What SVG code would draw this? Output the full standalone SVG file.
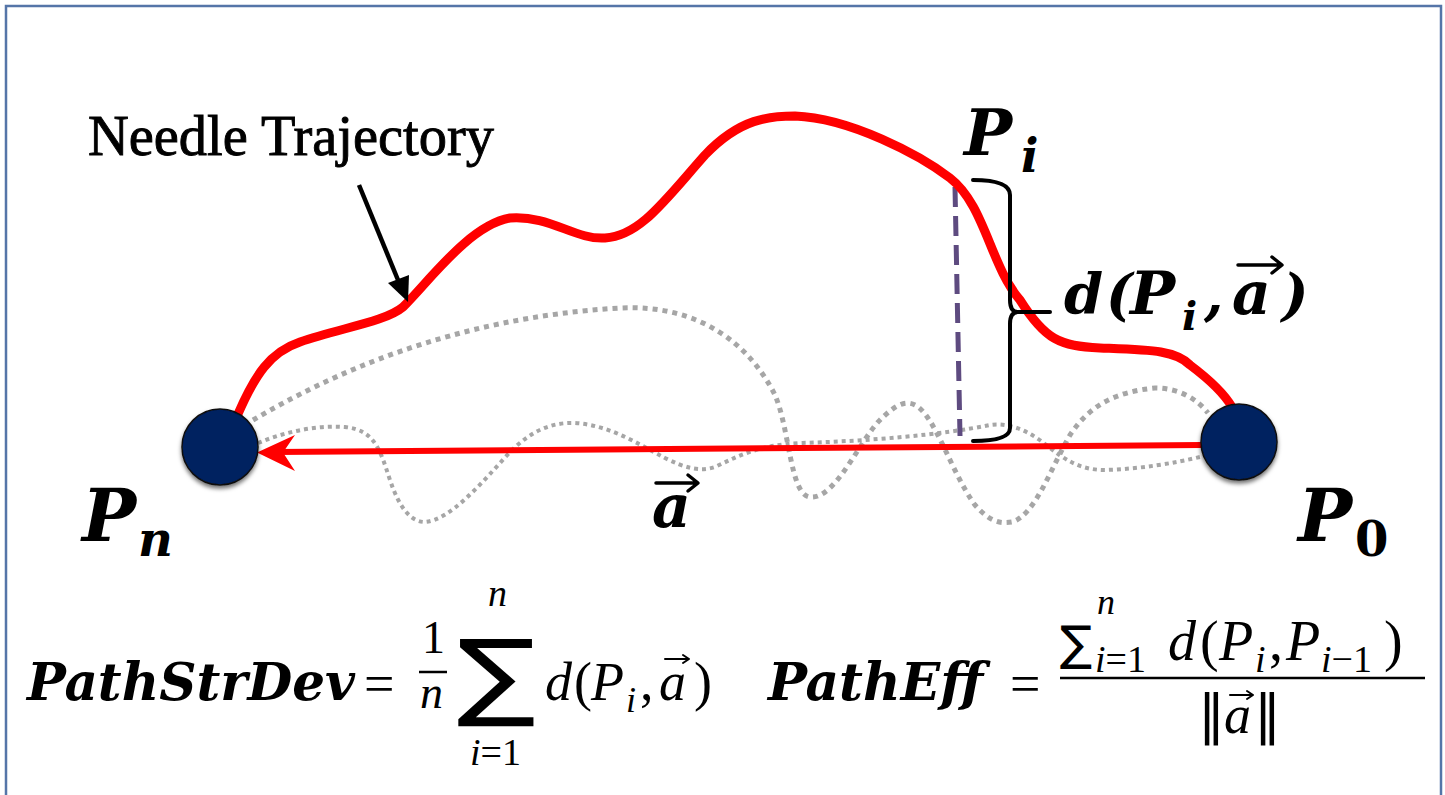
<svg xmlns="http://www.w3.org/2000/svg" width="1445" height="795" viewBox="0 0 1445 795">
<style>
.bi{font-family:"DejaVu Serif",serif;font-weight:bold;font-style:italic;fill:#000}
.bd{font-family:"DejaVu Serif",serif;font-weight:bold;fill:#000}
.it{font-family:"Liberation Serif",serif;font-style:italic;fill:#000}
.rm{font-family:"Liberation Serif",serif;fill:#000}
.sig{font-family:"DejaVu Sans",sans-serif;fill:#000}
.lbl{font-family:"Liberation Serif",serif;fill:#000;stroke:#000;stroke-width:0.9}
.dotA{fill:none;stroke:#a6a6a6;stroke-width:5;stroke-dasharray:5 5}
.dotB{fill:none;stroke:#a6a6a6;stroke-width:4;stroke-dasharray:4 4}
.red{fill:none;stroke:#ff0000;stroke-linecap:round}
.node{fill:#002060;stroke:#111;stroke-width:1.5}
.vec{fill:none;stroke:#000;stroke-linecap:round;stroke-linejoin:round}
</style>
<defs>
<filter id="sh" x="-30%" y="-30%" width="160%" height="170%">
<feDropShadow dx="0" dy="3" stdDeviation="2" flood-color="#000" flood-opacity="0.55"/>
</filter>
</defs>
<rect x="0" y="0" width="1445" height="795" fill="#fff"/>
<rect x="6" y="6" width="1435" height="800" fill="none" stroke="#5575a8" stroke-width="2.5"/>

<g id="connectors">
<path class="dotA" d="M253,420 C330,375 450,318 620,308 C700,304 750,345 775,395 C790,430 790,495 810,497 C835,500 860,440 880,420 C895,405 905,400 915,405 C935,415 950,470 975,505 C990,522 1000,524 1012,522 C1035,515 1050,470 1070,435 C1090,405 1115,392 1155,388 C1180,388 1198,400 1208,413"/>
<path class="dotB" d="M258,443 C285,432 315,425 345,427 C375,430 380,450 390,480 C400,510 412,522 425,522 C450,520 480,485 510,452 C530,432 550,422 575,423 C610,425 640,445 665,458 C685,468 700,472 715,467 C740,455 760,445 800,443 C870,441 940,435 990,425 C1010,422 1030,432 1045,444 C1065,460 1080,470 1105,470 C1140,469 1175,463 1200,457"/>
<line x1="955" y1="187" x2="960" y2="436" stroke="#5e4b80" stroke-width="5" stroke-dasharray="20 9"/>
<line class="red" x1="1202" y1="445" x2="275" y2="452" stroke-width="6"/>
<path d="M257,452.5 L295,435 L283,452.5 L295,471 Z" fill="#ff0000"/>
<path class="red" stroke-width="9" d="M238,414 C255,375 270,352 300,342 C340,328 385,322 403,307 C430,280 470,225 510,218 C550,215 575,240 605,238 C640,236 665,200 705,155 C740,118 770,116 795,116 C850,118 920,155 950,178 C985,205 990,265 1020,300 C1045,340 1060,346 1100,348 C1150,350 1175,350 1190,365 C1210,380 1225,395 1232,407"/>
<line x1="359" y1="185" x2="398" y2="280" stroke="#000" stroke-width="4.5"/>
<path d="M408,302 L388,283 L409,275 Z" fill="#000"/>
<path class="vec" stroke-width="4" d="M973,180 Q1010,180 1010,195 L1010,300 Q1010,312 1018,312 L1050,312 M1018,312 Q1010,312 1010,324 L1010,428 Q1010,441 973,441"/>
</g>

<g id="node-pn">
<circle class="node" cx="220" cy="447" r="38" filter="url(#sh)"/>
<text class="bi" x="82" y="541" font-size="72">P</text>
<text class="bi" x="138" y="556" font-size="48">n</text>
</g>
<g id="node-p0">
<circle class="node" cx="1239" cy="442" r="38" filter="url(#sh)"/>
<text class="bi" x="1298" y="541" font-size="72">P</text>
<text class="bd" x="1355" y="556" font-size="48">0</text>
</g>
<g id="label-pi">
<text class="bi" x="964" y="155" font-size="64">P</text>
<text class="bi" x="1021" y="172" font-size="46">i</text>
</g>
<g id="label-needle">
<text class="lbl" x="88" y="155" font-size="56" textLength="406" lengthAdjust="spacingAndGlyphs">Needle Trajectory</text>
</g>
<g id="label-d">
<text class="bi" x="1064" y="314" font-size="56">d</text>
<text class="bi" x="1106" y="314" font-size="56">(</text>
<text class="bi" x="1130" y="314" font-size="60">P</text>
<text class="bi" x="1182" y="330" font-size="40">i</text>
<text class="bi" x="1204" y="314" font-size="56">,</text>
<text class="bi" x="1232" y="314" font-size="60">a</text>
<text class="bi" x="1282" y="314" font-size="56">)</text>
<path class="vec" stroke-width="3.5" d="M1238,265 H1281 M1272,257 L1282,265 L1272,273"/>
</g>
<g id="label-a">
<text class="bi" x="652" y="527" font-size="60">a</text>
<path class="vec" stroke-width="3.5" d="M656,483 H697 M688,475 L698,483 L688,491"/>
</g>

<g id="formula-1">
<text class="bi" x="27" y="700" font-size="52" textLength="328" lengthAdjust="spacingAndGlyphs">PathStrDev</text>
<text class="rm" x="364" y="702" font-size="54">=</text>
<text class="rm" x="422" y="653" font-size="46">1</text>
<line x1="419" y1="672" x2="447" y2="672" stroke="#000" stroke-width="2.5"/>
<text class="it" x="420" y="708" font-size="46">n</text>
<text class="sig" x="0" y="0" font-size="96" transform="translate(457,708) scale(1.22,1)">∑</text>
<text class="it" x="488" y="606" font-size="38">n</text>
<text x="470" y="765" font-size="38"><tspan class="it">i</tspan><tspan class="rm">=1</tspan></text>
<text class="it" x="545" y="700" font-size="54">d</text>
<text class="rm" x="574" y="700" font-size="54">(</text>
<text class="it" x="591" y="700" font-size="54">P</text>
<text class="it" x="626" y="712" font-size="36">i</text>
<text class="rm" x="640" y="700" font-size="54">,</text>
<text class="it" x="659" y="700" font-size="54">a</text>
<text class="rm" x="694" y="700" font-size="54">)</text>
<path class="vec" stroke-width="2" d="M665,659 H688 M683,655 L689,659 L683,663"/>
</g>

<g id="formula-2">
<text class="bi" x="768" y="700" font-size="52" textLength="215" lengthAdjust="spacingAndGlyphs">PathEff</text>
<text class="rm" x="1010" y="702" font-size="54">=</text>
<text class="sig" x="1060" y="660" font-size="48">∑</text>
<text class="it" x="1097" y="614" font-size="36">n</text>
<text x="1095" y="672" font-size="38"><tspan class="it">i</tspan><tspan class="rm">=1</tspan></text>
<text class="it" x="1168" y="660" font-size="56">d</text>
<text class="rm" x="1200" y="660" font-size="56">(</text>
<text class="it" x="1219" y="660" font-size="56">P</text>
<text class="it" x="1255" y="672" font-size="38">i</text>
<text class="rm" x="1269" y="660" font-size="56">,</text>
<text class="it" x="1286" y="660" font-size="56">P</text>
<text x="1321" y="672" font-size="38"><tspan class="it">i</tspan><tspan class="rm">−1</tspan></text>
<text class="rm" x="1384" y="660" font-size="56">)</text>
<line x1="1060" y1="678" x2="1425" y2="678" stroke="#000" stroke-width="2.5"/>
<text class="sig" x="1198" y="733" font-size="54">‖</text>
<text class="it" x="1224" y="733" font-size="54">a</text>
<text class="sig" x="1254" y="733" font-size="54">‖</text>
<path class="vec" stroke-width="2" d="M1230,695 H1252 M1247,691 L1253,695 L1247,699"/>
</g>
</svg>
